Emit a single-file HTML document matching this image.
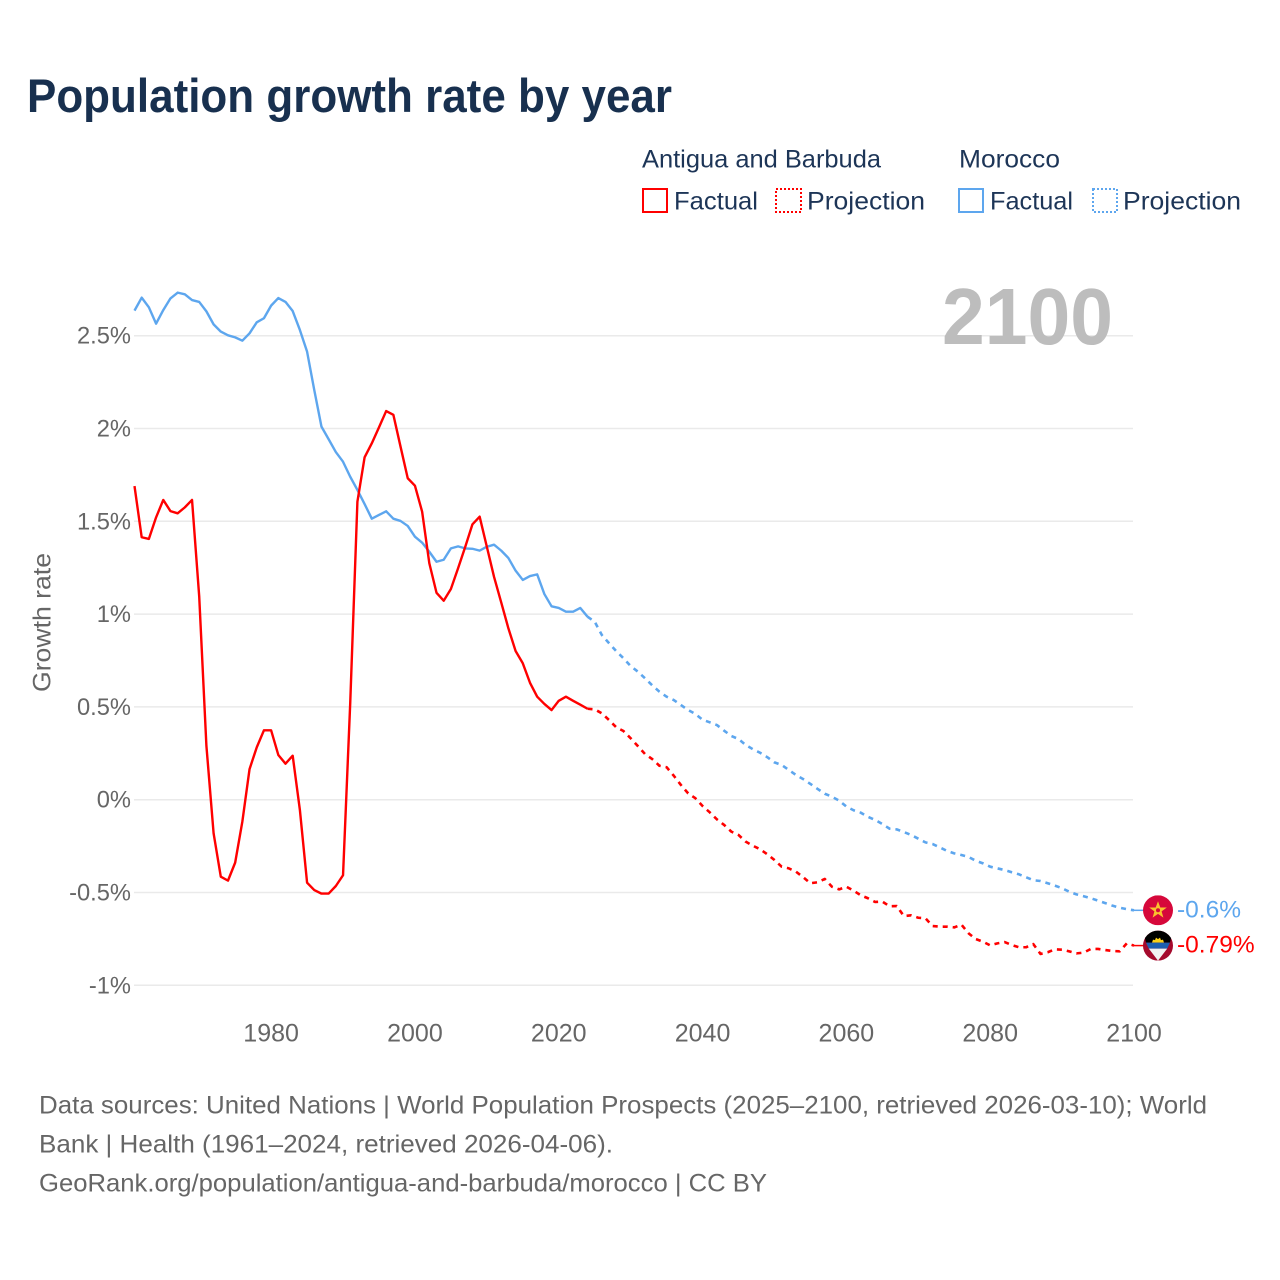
<!DOCTYPE html>
<html lang="en">
<head>
<meta charset="utf-8">
<title>Population growth rate by year</title>
<style>
  html, body { margin: 0; padding: 0; background: #fff; }
  svg { display: block; font-family: "Liberation Sans", sans-serif; }
</style>
</head>
<body>
<svg id="chart" xmlns="http://www.w3.org/2000/svg" width="1280" height="1280" viewBox="0 0 1280 1280">
  <defs>
    <clipPath id="flag-clip-ma"><circle cx="0" cy="0" r="15"/></clipPath>
    <clipPath id="flag-clip-ag"><circle cx="0" cy="0" r="15"/></clipPath>
  </defs>

  <text x="27" y="112" font-size="47" font-weight="700" fill="#18304f" textLength="645" lengthAdjust="spacingAndGlyphs">Population growth rate by year</text>

  <g font-size="25" fill="#1d3557">
    <text x="642" y="167.5" textLength="239" lengthAdjust="spacingAndGlyphs">Antigua and Barbuda</text>
    <text x="959" y="167.5" textLength="101" lengthAdjust="spacingAndGlyphs">Morocco</text>
    <rect x="643" y="189" width="24" height="23" fill="none" stroke="#ff0000" stroke-width="2"/>
    <text x="674" y="209.5" textLength="84" lengthAdjust="spacingAndGlyphs">Factual</text>
    <rect x="776" y="189" width="25" height="23" fill="none" stroke="#ff0000" stroke-width="2" stroke-dasharray="2,2"/>
    <text x="807" y="209.5" textLength="118" lengthAdjust="spacingAndGlyphs">Projection</text>
    <rect x="959" y="189" width="24" height="23" fill="none" stroke="#5da6ee" stroke-width="2"/>
    <text x="990" y="209.5" textLength="83" lengthAdjust="spacingAndGlyphs">Factual</text>
    <rect x="1093" y="189" width="24" height="23" fill="none" stroke="#5da6ee" stroke-width="2" stroke-dasharray="2,2"/>
    <text x="1123" y="209.5" textLength="118" lengthAdjust="spacingAndGlyphs">Projection</text>
  </g>

  <g id="grid"></g>
  <g id="y-ticks"></g>
  <g id="x-ticks"></g>

  <text transform="translate(50.5,622.5) rotate(-90)" text-anchor="middle" font-size="25" fill="#666666" textLength="139" lengthAdjust="spacingAndGlyphs">Growth rate</text>

  <text x="942" y="344" font-size="80" font-weight="700" fill="#bdbdbd" textLength="171" lengthAdjust="spacingAndGlyphs">2100</text>

  <g id="series"></g>

  <g id="flag-morocco">
    <g clip-path="url(#flag-clip-ma)">
      <rect x="-15" y="-15" width="30" height="30" fill="#d6083b"/>
      <polygon points="0,-9 2.3,-2.8 8.8,-2.8 3.6,1.1 5.4,7.3 0,3.6 -5.4,7.3 -3.6,1.1 -8.8,-2.8 -2.3,-2.8" fill="#f9c22e"/>
      <circle cx="0" cy="0" r="2" fill="#d6083b"/>
    </g>
  </g>
  <g id="flag-antigua">
    <g clip-path="url(#flag-clip-ag)">
      <rect x="-15" y="-15" width="30" height="30" fill="#a50a2d"/>
      <polygon points="-15,-15 15,-15 12,-3 -12,-3" fill="#000000"/>
      <polygon points="-6,-3 -5,-6 -3,-5.5 -2,-8 0,-6.5 2,-8 3,-5.5 5,-6 6,-3" fill="#fcd116"/>
      <polygon points="-12,-3 12,-3 9.2,3 -9.2,3" fill="#1d5fb0"/>
      <polygon points="-9.2,3 9.2,3 0,15" fill="#f2f2f2"/>
    </g>
  </g>

  <text id="label-morocco" x="1177" y="917" font-size="24.5" fill="#5da6ee"></text>
  <text id="label-antigua" x="1177" y="952" font-size="24.5" fill="#ff0000"></text>

  <g font-size="25" fill="#666666">
    <text x="39" y="1113.5" textLength="1168" lengthAdjust="spacingAndGlyphs">Data sources: United Nations | World Population Prospects (2025–2100, retrieved 2026-03-10); World</text>
    <text x="39" y="1152.5" textLength="574" lengthAdjust="spacingAndGlyphs">Bank | Health (1961–2024, retrieved 2026-04-06).</text>
    <text x="39" y="1191.5" textLength="728" lengthAdjust="spacingAndGlyphs">GeoRank.org/population/antigua-and-barbuda/morocco | CC BY</text>
  </g>
</svg>

<script>
const factualStartYear = 1961;
const projectionStartYear = 2024;
const yTickValues = [2.5, 2, 1.5, 1, 0.5, 0, -0.5, -1];
const xTickYears = [1980, 2000, 2020, 2040, 2060, 2080, 2100];

const antiguaFactual = [
  1.690, 1.414, 1.405, 1.521, 1.615, 1.555, 1.543, 1.575, 1.615, 1.094,
  0.290, -0.181, -0.415, -0.436, -0.339, -0.118, 0.165, 0.282, 0.374, 0.374,
  0.241, 0.194, 0.237, -0.055, -0.447, -0.487, -0.506, -0.506, -0.465, -0.407,
  0.520, 1.606, 1.845, 1.920, 2.006, 2.094, 2.074, 1.902, 1.732, 1.692,
  1.552, 1.274, 1.115, 1.072, 1.135, 1.247, 1.363, 1.484, 1.525, 1.363,
  1.201, 1.063, 0.923, 0.801, 0.735, 0.630, 0.555, 0.516, 0.483, 0.533,
  0.555, 0.533, 0.512, 0.490
];
const moroccoFactual = [
  2.635, 2.705, 2.653, 2.565, 2.638, 2.701, 2.732, 2.723, 2.692, 2.682,
  2.631, 2.561, 2.522, 2.502, 2.491, 2.473, 2.513, 2.572, 2.594, 2.662,
  2.703, 2.682, 2.633, 2.531, 2.414, 2.207, 2.010, 1.942, 1.873, 1.821,
  1.740, 1.669, 1.593, 1.514, 1.534, 1.554, 1.514, 1.502, 1.475, 1.417,
  1.385, 1.336, 1.282, 1.293, 1.354, 1.365, 1.354, 1.352, 1.342, 1.363,
  1.374, 1.342, 1.302, 1.234, 1.184, 1.205, 1.214, 1.108, 1.042, 1.033,
  1.013, 1.013, 1.033, 0.986
];
const antiguaProjection = [
  0.490, 0.487, 0.465, 0.429, 0.390, 0.370, 0.331, 0.289, 0.246, 0.219,
  0.183, 0.175, 0.129, 0.079, 0.034, 0.008, -0.034, -0.068, -0.106, -0.136,
  -0.172, -0.190, -0.226, -0.248, -0.267, -0.294, -0.325, -0.361, -0.370, -0.388,
  -0.418, -0.450, -0.445, -0.427, -0.469, -0.483, -0.469, -0.490, -0.515, -0.531,
  -0.551, -0.549, -0.574, -0.573, -0.627, -0.623, -0.636, -0.639, -0.681, -0.684,
  -0.684, -0.688, -0.673, -0.720, -0.751, -0.765, -0.785, -0.774, -0.767, -0.783,
  -0.795, -0.795, -0.778, -0.831, -0.822, -0.806, -0.808, -0.817, -0.828, -0.824,
  -0.804, -0.804, -0.810, -0.815, -0.817, -0.774, -0.786
];
const moroccoProjection = [
  0.986, 0.959, 0.887, 0.843, 0.800, 0.762, 0.720, 0.690, 0.654, 0.616,
  0.582, 0.555, 0.537, 0.510, 0.483, 0.462, 0.431, 0.417, 0.402, 0.372,
  0.343, 0.327, 0.295, 0.272, 0.253, 0.229, 0.201, 0.187, 0.160, 0.133,
  0.111, 0.085, 0.058, 0.032, 0.016, -0.005, -0.037, -0.057, -0.070, -0.092,
  -0.109, -0.131, -0.156, -0.160, -0.174, -0.190, -0.210, -0.230, -0.239, -0.257,
  -0.276, -0.289, -0.298, -0.309, -0.329, -0.343, -0.361, -0.370, -0.379, -0.391,
  -0.402, -0.418, -0.434, -0.438, -0.450, -0.463, -0.477, -0.496, -0.510, -0.520,
  -0.531, -0.544, -0.557, -0.571, -0.582, -0.590, -0.596
];

const SVG_NS = 'http://www.w3.org/2000/svg';
const COLOR_ANTIGUA = '#ff0000';
const COLOR_MOROCCO = '#5da6ee';
const xAxis = year => 134.5 + (year - 1961) * (1134 - 134.5) / (2100 - 1961);
const yAxis = value => 799.7 - value * 185.6;
const fmtPct = v => (+v.toFixed(2)) + '%';

const gridLayer = document.getElementById('grid');
const yTickLayer = document.getElementById('y-ticks');
const xTickLayer = document.getElementById('x-ticks');
const seriesLayer = document.getElementById('series');

yTickValues.forEach(function (v) {
  const line = document.createElementNS(SVG_NS, 'line');
  
  
  line.setAttribute('x1', 134);
  line.setAttribute('x2', 1133);
  line.setAttribute('y1', yAxis(v));
  line.setAttribute('y2', yAxis(v));
  line.setAttribute('stroke', '#eaeaea');
  line.setAttribute('stroke-width', '1.5');
  gridLayer.appendChild(line);

  const label = document.createElementNS(SVG_NS, 'text');
  
  
  label.setAttribute('x', 131);
  label.setAttribute('y', yAxis(v) + 8);
  label.setAttribute('text-anchor', 'end');
  label.setAttribute('font-size', '23.7');
  label.setAttribute('fill', '#666666');
  label.textContent = fmtPct(v);
  yTickLayer.appendChild(label);
});

xTickYears.forEach(function (year) {
  const label = document.createElementNS(SVG_NS, 'text');
  
  
  label.setAttribute('x', xAxis(year));
  label.setAttribute('y', 1041.5);
  label.setAttribute('text-anchor', 'middle');
  label.setAttribute('font-size', '25');
  label.setAttribute('fill', '#666666');
  label.textContent = String(year);
  xTickLayer.appendChild(label);
});

function pathFrom(values, startYear) {
  return values.map(function (v, i) {
    return (i ? 'L' : 'M') + xAxis(startYear + i).toFixed(2) + ' ' + yAxis(v).toFixed(2);
  }).join(' ');
}

function addSeries(values, startYear, color, dashed, name) {
  const p = document.createElementNS(SVG_NS, 'path');
  
  
  p.setAttribute('d', pathFrom(values, startYear));
  p.setAttribute('fill', 'none');
  p.setAttribute('stroke', color);
  p.setAttribute('stroke-width', dashed ? '2.6' : '2.4');
  p.setAttribute('stroke-linejoin', 'round');
  if (dashed) p.setAttribute('stroke-dasharray', '5,5');
  seriesLayer.appendChild(p);
}

addSeries(moroccoProjection, projectionStartYear, COLOR_MOROCCO, true, 'morocco-projection-line');
addSeries(antiguaProjection, projectionStartYear, COLOR_ANTIGUA, true, 'antigua-projection-line');
addSeries(moroccoFactual, factualStartYear, COLOR_MOROCCO, false, 'morocco-factual-line');
addSeries(antiguaFactual, factualStartYear, COLOR_ANTIGUA, false, 'antigua-factual-line');

function addEndMarker(values, color, flagId, labelId, name) {
  const last = values[values.length - 1];
  const cy = yAxis(last);
  const c = document.createElementNS(SVG_NS, 'line');
  
  
  c.setAttribute('x1', xAxis(2100));
  c.setAttribute('x2', 1144);
  c.setAttribute('y1', cy);
  c.setAttribute('y2', cy);
  c.setAttribute('stroke', color);
  c.setAttribute('stroke-width', '1.5');
  seriesLayer.appendChild(c);
  document.getElementById(flagId).setAttribute('transform', 'translate(1158,' + cy.toFixed(1) + ')');
  const label = document.getElementById(labelId);
  label.setAttribute('y', (cy + 7).toFixed(1));
  label.textContent = fmtPct(last);
}

addEndMarker(moroccoProjection, COLOR_MOROCCO, 'flag-morocco', 'label-morocco', 'morocco-end-connector');
addEndMarker(antiguaProjection, COLOR_ANTIGUA, 'flag-antigua', 'label-antigua', 'antigua-end-connector');
</script>
</body>
</html>
